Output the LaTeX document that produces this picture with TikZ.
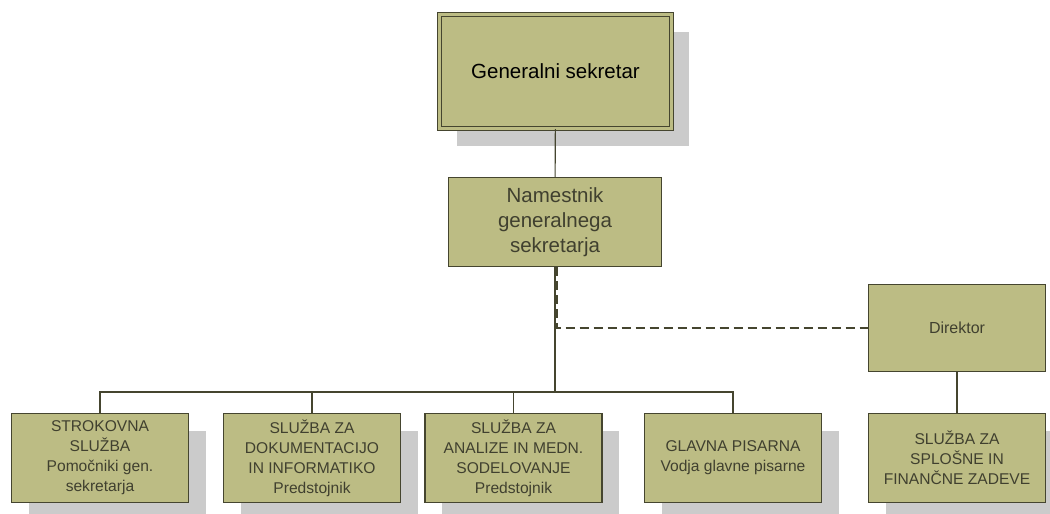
\documentclass[tikz,border=0pt]{standalone}
\usepackage{fontspec}
\setmainfont{Liberation Sans}
\usepackage{tikz}
\usetikzlibrary{
	positioning,									% 节点的高级摆放
	shadows,										% 阴影
}
\definecolor{olivebox}{HTML}{BCBC84}
\definecolor{olivedraw}{HTML}{45452F}
\definecolor{olivetext}{HTML}{40402F}
\definecolor{shadowgray}{HTML}{CBCBCB}

\begin{document}
\begin{tikzpicture}[x=1pt, y=-1pt,
		orgbox/.style={draw=olivedraw, line width=1.3pt, fill=olivebox, text=olivetext,
			align=center, inner sep=2pt, minimum width=177pt, minimum height=89pt,
			font=\fontsize{15.6}{20}\selectfont},
		shadowed/.style={general shadow={shadow xshift=17pt, shadow yshift=-17pt, fill=shadowgray}},
		topbox/.style={orgbox, double=olivebox, double distance=2.5pt, line width=1.2pt,
			minimum width=232pt, minimum height=114pt, text=black,
			font=\fontsize{20.5}{25}\selectfont},
		link/.style={draw=olivedraw, line width=1.1pt},
		dashlink/.style={draw=olivedraw, line width=2pt, dash pattern=on 9pt off 5pt},
	]
		\useasboundingbox (0,0) rectangle (1050,514);
		% 上层
		\node [topbox, shadowed] (gs) at (555.5,71.5) {Generalni sekretar};
		\node [orgbox, minimum width=213pt, font=\fontsize{20.5}{25}\selectfont] (nam) at (555,222) {Namestnik\\generalnega\\sekretarja};
		\node [orgbox, minimum height=87pt, font=\fontsize{16}{20}\selectfont] (dir) at (957,328) {Direktor};
		% 下层
		\node [orgbox, shadowed] (strok) at (100,458) {STROKOVNA\\SLUŽBA\\Pomočniki gen.\\sekretarja};
		\node [orgbox, shadowed] (dok) at (312,458) {SLUŽBA ZA\\DOKUMENTACIJO\\IN INFORMATIKO\\Predstojnik};
		\node [orgbox, shadowed] (anal) at (513.5,458) {SLUŽBA ZA\\ANALIZE IN MEDN.\\SODELOVANJE\\Predstojnik};
		\node [orgbox, shadowed] (pis) at (733,458) {GLAVNA PISARNA\\Vodja glavne pisarne};
		\node [orgbox, shadowed] (fin) at (957,458) {SLUŽBA ZA\\SPLOŠNE IN\\FINANČNE ZADEVE};
		\coordinate (bus) at (555,392);
		% 连线
		\draw [dashlink] ([xshift=1.5pt]nam.south) |- (dir.west);
		\draw [link] (gs) -- (nam);
		\draw [link] (nam) -- (bus);
		\foreach \n in {strok,dok,anal,pis}
			\draw [link] (bus) -| (\n.north);
		\draw [link] (dir) -- (fin);
	\end{tikzpicture}
\end{document}
